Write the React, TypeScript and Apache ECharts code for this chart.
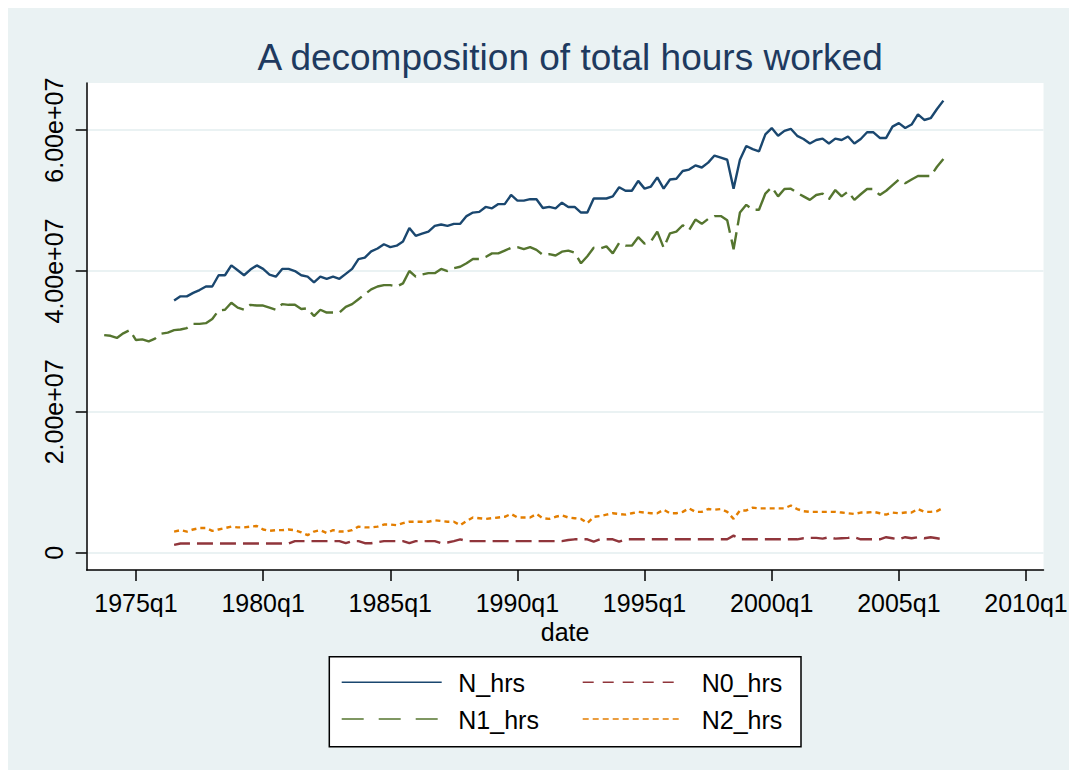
import React, { useEffect, useRef } from "react";
import * as echarts from "echarts";

// Stata quarterly index: 1960q1 = 0
const N_START = 66; // 1976q3
const N1_START = 55; // 1973q4

// values in millions of hours
const N_hrs = [
  35.8, 36.4, 36.4, 36.9, 37.3, 37.8, 37.8, 39.4, 39.4, 40.8,
  40.1, 39.4, 40.2, 40.8, 40.3, 39.5, 39.2, 40.3, 40.3, 40.0,
  39.4, 39.2, 38.4, 39.2, 38.9, 39.2, 38.9, 39.6, 40.3, 41.7,
  41.9, 42.8, 43.2, 43.8, 43.4, 43.6, 44.2, 46.1, 45.0, 45.3,
  45.6, 46.4, 46.6, 46.4, 46.7, 46.7, 47.8, 48.3, 48.4, 49.1,
  48.9, 49.5, 49.5, 50.8, 50.0, 50.0, 50.2, 50.2, 48.95, 49.1,
  48.9, 49.7, 49.1, 49.1, 48.3, 48.3, 50.3, 50.3, 50.3, 50.6,
  51.9, 51.4, 51.4, 52.8, 51.7, 52.0, 53.3, 51.7, 53.0, 53.1,
  54.2, 54.4, 55.0, 54.7, 55.4, 56.4, 56.1, 55.8, 51.7, 55.8,
  57.75, 57.3, 57.0, 59.4, 60.3, 59.2, 59.9, 60.2, 59.2, 58.75,
  58.1, 58.6, 58.8, 58.1, 58.8, 58.6, 59.1, 58.1, 58.75, 59.7,
  59.7, 58.9, 58.9, 60.5, 61.0, 60.3, 60.8, 62.25, 61.45, 61.7,
  63.0, 64.2,
];

const N1_hrs = [
  30.9, 30.8, 30.5, 31.15, 31.6, 30.2, 30.3, 30.0, 30.4, 31.1,
  31.25, 31.6, 31.7, 31.9, 32.5, 32.5, 32.6, 33.2, 34.4, 34.5,
  35.5, 34.8, 34.5, 35.2, 35.1, 35.1, 34.8, 34.5, 35.3, 35.2,
  35.2, 34.6, 34.7, 33.6, 34.5, 34.1, 34.1, 34.1, 34.9, 35.3,
  36.0, 36.7, 37.4, 37.8, 38.0, 38.0, 37.8, 38.25, 40.0, 39.2,
  39.5, 39.7, 39.7, 40.3, 40.0, 40.4, 40.6, 41.1, 41.7, 41.7,
  42.0, 42.5, 42.5, 42.9, 43.3, 43.4, 43.1, 43.4, 43.0, 42.3,
  42.4, 42.2, 42.75, 42.9, 42.6, 41.1, 42.1, 43.3, 43.2, 43.5,
  42.5, 44.0, 43.6, 43.6, 44.8, 43.9, 44.2, 45.6, 43.3, 45.35,
  45.6, 46.5, 45.8, 47.3, 46.7, 47.4, 47.8, 47.8, 47.2, 43.1,
  48.3, 49.4, 48.7, 48.7, 51.0, 51.9, 50.6, 51.65, 51.7, 51.1,
  50.6, 50.1, 50.8, 51.0, 50.2, 51.5, 50.6, 51.3, 50.1, 50.9,
  51.65, 51.65, 50.8, 51.4, 52.2, 53.0, 52.45, 53.0, 53.5, 53.5,
  53.5, 54.8, 55.9,
];

const N0_hrs = [
  1.1, 1.3, 1.3, 1.3, 1.3, 1.3, 1.3, 1.3, 1.3, 1.3,
  1.3, 1.3, 1.3, 1.3, 1.3, 1.3, 1.3, 1.3, 1.3, 1.65,
  1.65, 1.65, 1.65, 1.65, 1.65, 1.65, 1.65, 1.35, 1.65, 1.65,
  1.35, 1.35, 1.5, 1.65, 1.65, 1.65, 1.65, 1.35, 1.65, 1.65,
  1.65, 1.65, 1.35, 1.45, 1.65, 1.9, 1.65, 1.65, 1.65, 1.65,
  1.65, 1.65, 1.65, 1.65, 1.65, 1.65, 1.65, 1.65, 1.65, 1.65,
  1.65, 1.65, 1.8, 1.9, 1.9, 1.9, 1.57, 1.9, 1.9, 1.9,
  1.57, 1.9, 1.9, 1.9, 1.9, 1.9, 1.9, 1.9, 1.9, 1.9,
  1.9, 1.9, 1.9, 1.9, 1.9, 1.9, 1.9, 1.9, 2.42, 1.9,
  1.9, 1.9, 1.9, 1.9, 1.9, 1.9, 1.9, 1.9, 1.9, 2.05,
  2.1, 2.1, 2.0, 2.2, 2.0, 2.05, 2.1, 2.2, 1.9, 1.9,
  1.9, 1.9, 2.2, 2.05, 1.9, 2.2, 2.05, 2.2, 2.05, 2.2,
  2.05, 1.9,
];

const N2_hrs = [
  3.0, 3.2, 3.0, 3.3, 3.5, 3.5, 3.1, 3.3, 3.5, 3.7,
  3.6, 3.6, 3.7, 3.8, 3.3, 3.1, 3.2, 3.2, 3.3, 3.2,
  2.9, 2.5, 3.0, 3.2, 2.8, 3.2, 3.0, 3.0, 3.2, 3.7,
  3.6, 3.6, 3.7, 4.0, 4.0, 3.9, 4.2, 4.4, 4.4, 4.4,
  4.4, 4.6, 4.5, 4.4, 4.4, 3.9, 4.5, 5.0, 4.9, 4.8,
  4.9, 5.0, 5.1, 5.5, 5.0, 5.0, 5.0, 5.5, 4.9, 4.8,
  5.1, 5.3, 5.0, 4.9, 4.8, 4.2, 5.1, 5.2, 5.4, 5.6,
  5.5, 5.4, 5.6, 5.8, 5.7, 5.6, 5.6, 6.1, 5.6, 5.6,
  5.8, 6.3, 5.8, 5.8, 6.2, 6.1, 6.2, 5.8, 4.8, 6.0,
  6.0, 6.4, 6.3, 6.3, 6.3, 6.3, 6.3, 6.7, 6.2, 5.9,
  5.8, 5.8, 5.8, 5.8, 5.8, 5.7, 5.6, 5.5, 5.7, 5.7,
  5.8, 5.6, 5.4, 5.7, 5.6, 5.7, 5.7, 6.2, 5.8, 5.8,
  5.9, 6.4,
];

const xTicks = [60, 80, 100, 120, 140, 160, 180, 200];
const yTicks = [0, 20e6, 40e6, 60e6];

const seriesNames = ["N_hrs", "N1_hrs", "N0_hrs", "N2_hrs"];
const colors = ["#1A476F", "#55752F", "#90353B", "#E37E00"];

const FONT = "Liberation Sans, Arial, Helvetica, sans-serif";

function qLabel(v: number): string {
  const y = 1960 + Math.floor(v / 4);
  const q = (((v % 4) + 4) % 4) + 1;
  return `${y}q${q}`;
}

function yLabel(v: number): string {
  if (v === 0) return "0";
  return v
    .toExponential(2)
    .replace(/e([+-])(\d)$/, (_m: string, s: string, d: string) => "e" + s + "0" + d);
}

function pairs(arr: number[], start: number): number[][] {
  return arr.map((v, i) => [start + i, v * 1e6]);
}

export default function App() {
  const ref = useRef<HTMLDivElement>(null);

  useEffect(() => {
    if (!ref.current) return;
    const chart = echarts.init(ref.current, undefined, { renderer: "svg" });

    const gridLeft = 78.7;
    const gridTop = 75;
    const gridWidth = 956.8;
    const gridHeight = 487;

    const legendBox = { x: 321.3, y: 648.7, w: 471.7, h: 90 };
    const row1 = 674.3;
    const row2 = 711;
    const c1 = 333.7;
    const c2 = 574.7;
    const t1 = 450.3;
    const t2 = 693.7;

    const dashes: any[] = ["solid", [27, 7], [16, 7], [5, 4]];
    const legendDashes: any[] = [null, [22, 15], [11, 9], [6, 4]];
    const legendPos = [
      [c1, t1, row1],
      [c1, t1, row2],
      [c2, t2, row1],
      [c2, t2, row2],
    ];

    const graphic: any[] = [
      {
        type: "rect",
        shape: { x: legendBox.x, y: legendBox.y, width: legendBox.w, height: legendBox.h },
        style: { fill: "#ffffff", stroke: "#000000", lineWidth: 1.5 },
      },
    ];
    seriesNames.forEach((name, i) => {
      const [lx, tx, ly] = legendPos[i];
      graphic.push({
        type: "line",
        shape: { x1: lx, y1: ly, x2: lx + 100, y2: ly },
        style: {
          stroke: colors[i],
          lineWidth: 1.6,
          lineDash: legendDashes[i] || undefined,
        },
      });
      graphic.push({
        type: "text",
        x: tx,
        y: ly + 1,
        style: {
          text: name,
          fontSize: 25,
          fontFamily: FONT,
          fill: "#000000",
          align: "left",
          verticalAlign: "middle",
        },
      });
    });

    const dataSets = [
      pairs(N_hrs, N_START),
      pairs(N1_hrs, N1_START),
      pairs(N0_hrs, N_START),
      pairs(N2_hrs, N_START),
    ];

    chart.setOption({
      animation: false,
      backgroundColor: "#EAF2F3",
      title: {
        text: "A decomposition of total hours worked",
        left: gridLeft + gridWidth / 2,
        textAlign: "center",
        top: 26,
        textStyle: {
          fontSize: 37,
          fontWeight: "normal",
          fontFamily: FONT,
          color: "#1E3A5F",
        },
      },
      grid: {
        left: gridLeft,
        top: gridTop,
        width: gridWidth,
        height: gridHeight,
        containLabel: false,
        outerBoundsMode: "none",
        show: true,
        backgroundColor: "#ffffff",
        borderWidth: 0,
      },
      xAxis: {
        type: "value",
        min: 52.25,
        max: 202.75,
        axisLine: { show: true, onZero: false, lineStyle: { color: "#000", width: 1.5 } },
        axisTick: {
          show: true,
          customValues: xTicks,
          length: 11,
          lineStyle: { color: "#000", width: 1.5 },
        },
        axisLabel: {
          customValues: xTicks,
          formatter: qLabel,
          fontSize: 25,
          fontFamily: FONT,
          color: "#000",
          margin: 20,
        },
        splitLine: { show: false },
        name: "date",
        nameLocation: "middle",
        nameGap: 43,
        nameTextStyle: { fontSize: 25, fontFamily: FONT, color: "#000" },
      },
      yAxis: {
        type: "value",
        min: -2457000,
        max: 66700000,
        axisLine: { show: true, onZero: false, lineStyle: { color: "#000", width: 1.5 } },
        axisTick: {
          show: true,
          customValues: yTicks,
          length: 11,
          lineStyle: { color: "#000", width: 1.5 },
        },
        axisLabel: {
          customValues: yTicks,
          formatter: yLabel,
          rotate: 90,
          fontSize: 25,
          fontFamily: FONT,
          color: "#000",
          margin: 20,
        },
        splitLine: { show: true, lineStyle: { color: "#EAF2F3", width: 2 } },
      },
      graphic,
      series: seriesNames.map((name, i) => ({
        type: "line",
        name,
        data: dataSets[i],
        showSymbol: false,
        symbol: "none",
        clip: true,
        lineStyle: { color: colors[i], width: 2.4, type: dashes[i] },
        itemStyle: { color: colors[i] },
        emphasis: { disabled: true },
        z: 2 + i,
      })),
    });

    return () => {
      chart.dispose();
    };
  }, []);

  return <div ref={ref} style={{ width: 1061, height: 762 }} />;
}
